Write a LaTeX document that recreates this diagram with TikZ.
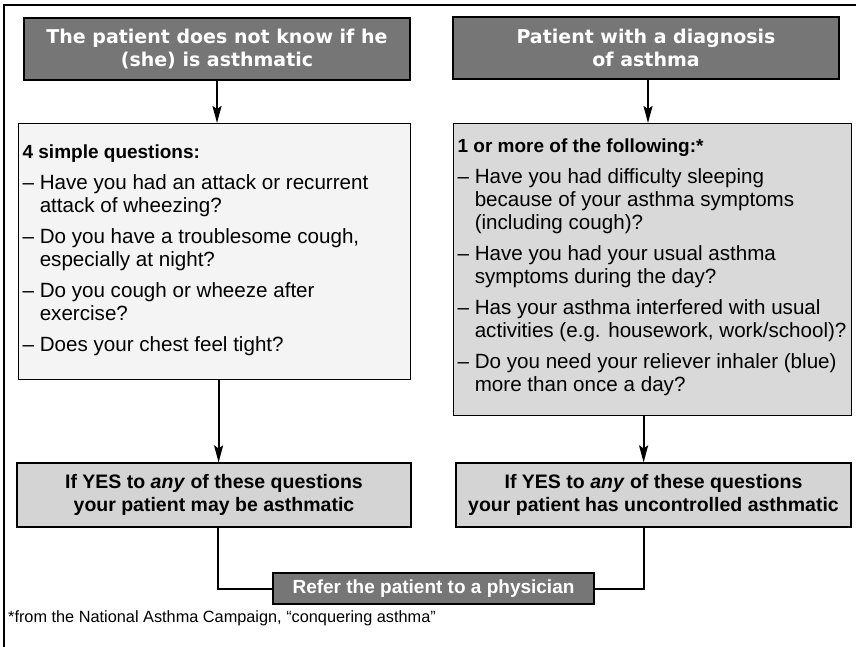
\documentclass[tikz,border=0pt]{standalone}
\usepackage{fontspec}
\setmainfont{Liberation Sans}
\newfontfamily\headfont{DejaVu Sans}
\usetikzlibrary{arrows.meta}

\definecolor{headgray}{HTML}{767676}
\definecolor{paleq}{HTML}{F4F4F4}
\definecolor{midq}{HTML}{D9D9D9}
\definecolor{resgray}{HTML}{D4D4D4}

% question lists: bold title, then dash items with hanging indent
\newlength\dashw
\newcommand\qstart[2]{\raggedright\setlength\parindent{0pt}\setlength\leftskip{4pt}%
  \fontsize{20.6}{23}\selectfont\settowidth\dashw{–\ }%
  \vspace*{#1}{\bfseries\fontsize{19}{23}\selectfont\strut #2\par}}
\newcommand\qitem{\par\vspace{8pt}\hangindent=\dashw\hangafter=1\relax\strut–\ }

\begin{document}
\begin{tikzpicture}[x=1pt,y=-1pt,
  headbox/.style={draw=black, line width=1.2pt, fill=headgray, text=white,
    font=\headfont\bfseries\fontsize{19}{23}\selectfont, align=center,
    minimum width=386pt, minimum height=62pt, inner sep=0pt},
  qbox/.style={draw=black, line width=1.2pt, inner sep=0pt, anchor=north west},
  resbox/.style={draw=black, line width=1.2pt, fill=resgray,
    font=\bfseries\fontsize{19.5}{23}\selectfont, align=center,
    minimum height=64pt, inner sep=0pt},
  referbox/.style={draw=black, line width=1.2pt, fill=headgray, text=white,
    font=\bfseries\fontsize{19}{22}\selectfont,
    minimum width=321pt, minimum height=31pt, inner sep=0pt},
  link/.style={line width=2pt},
  arr/.style={link, -{Stealth[length=17pt,width=9pt,inset=3pt]}}]

\useasboundingbox (0,0) rectangle (856,647);
\fill[white] (0,0) rectangle (856,647);

% frame
\draw[line width=2pt] (4,647) -- (4,5) -- (856,5);

% starting points
\node[headbox] (hl) at (217,49) {The patient does not know if he\\(she) is asthmatic};
\node[headbox] (hr) at (646,48) {Patient with a diagnosis\\of asthma};

% question boxes
\node[qbox, fill=paleq] (ql) at (18,123) {\begin{minipage}[c][256pt][t]{392pt}%
  \qstart{19pt}{4 simple questions:}%
  \qitem Have you had an attack or recurrent\newline attack of wheezing?%
  \qitem Do you have a troublesome cough,\newline especially at night?%
  \qitem Do you cough or wheeze after\newline exercise?%
  \qitem Does your chest feel tight?\par
  \end{minipage}};
\node[qbox, fill=midq] (qr) at (453,123) {\begin{minipage}[c][292pt][t]{398pt}%
  \qstart{13pt}{1 or more of the following:*}%
  \qitem Have you had difficulty sleeping\newline because of your asthma symptoms\newline (including cough)?%
  \qitem Have you had your usual asthma\newline symptoms during the day?%
  \qitem Has your asthma interfered with usual\newline activities (e.g. housework, work/school)?%
  \qitem Do you need your reliever inhaler (blue)\newline more than once a day?\par
  \end{minipage}};

% outcomes
\node[resbox, minimum width=394pt] (rl) at (214,495)
  {If YES to \textit{any} of these questions\\your patient may be asthmatic};
\node[resbox, minimum width=395pt] (rr) at (653.5,495)
  {If YES to \textit{any} of these questions\\your patient has uncontrolled asthmatic};

\node[referbox] (ref) at (433.5,588.5) {Refer the patient to a physician};

% footnote
\node[anchor=west, inner sep=0pt, font=\fontsize{16.3}{18}\selectfont] (note) at (8,618)
  {*from the National Asthma Campaign, “conquering asthma”};

% connectors
\draw[arr] (hl.south) -- (hl.south |- ql.north);
\draw[arr] ([xshift=2pt]hr.south) -- ([xshift=2pt]hr.south |- qr.north);
\draw[arr] ([xshift=4pt]ql.south) -- ([xshift=4pt]ql.south |- rl.north);
\draw[arr] ([xshift=-9pt]qr.south) -- ([xshift=-9pt]qr.south |- rr.north);
\draw[link] ([xshift=4pt]rl.south) |- (ref.west);
\draw[link] ([xshift=-9.5pt]rr.south) |- (ref.east);
\end{tikzpicture}
\end{document}
